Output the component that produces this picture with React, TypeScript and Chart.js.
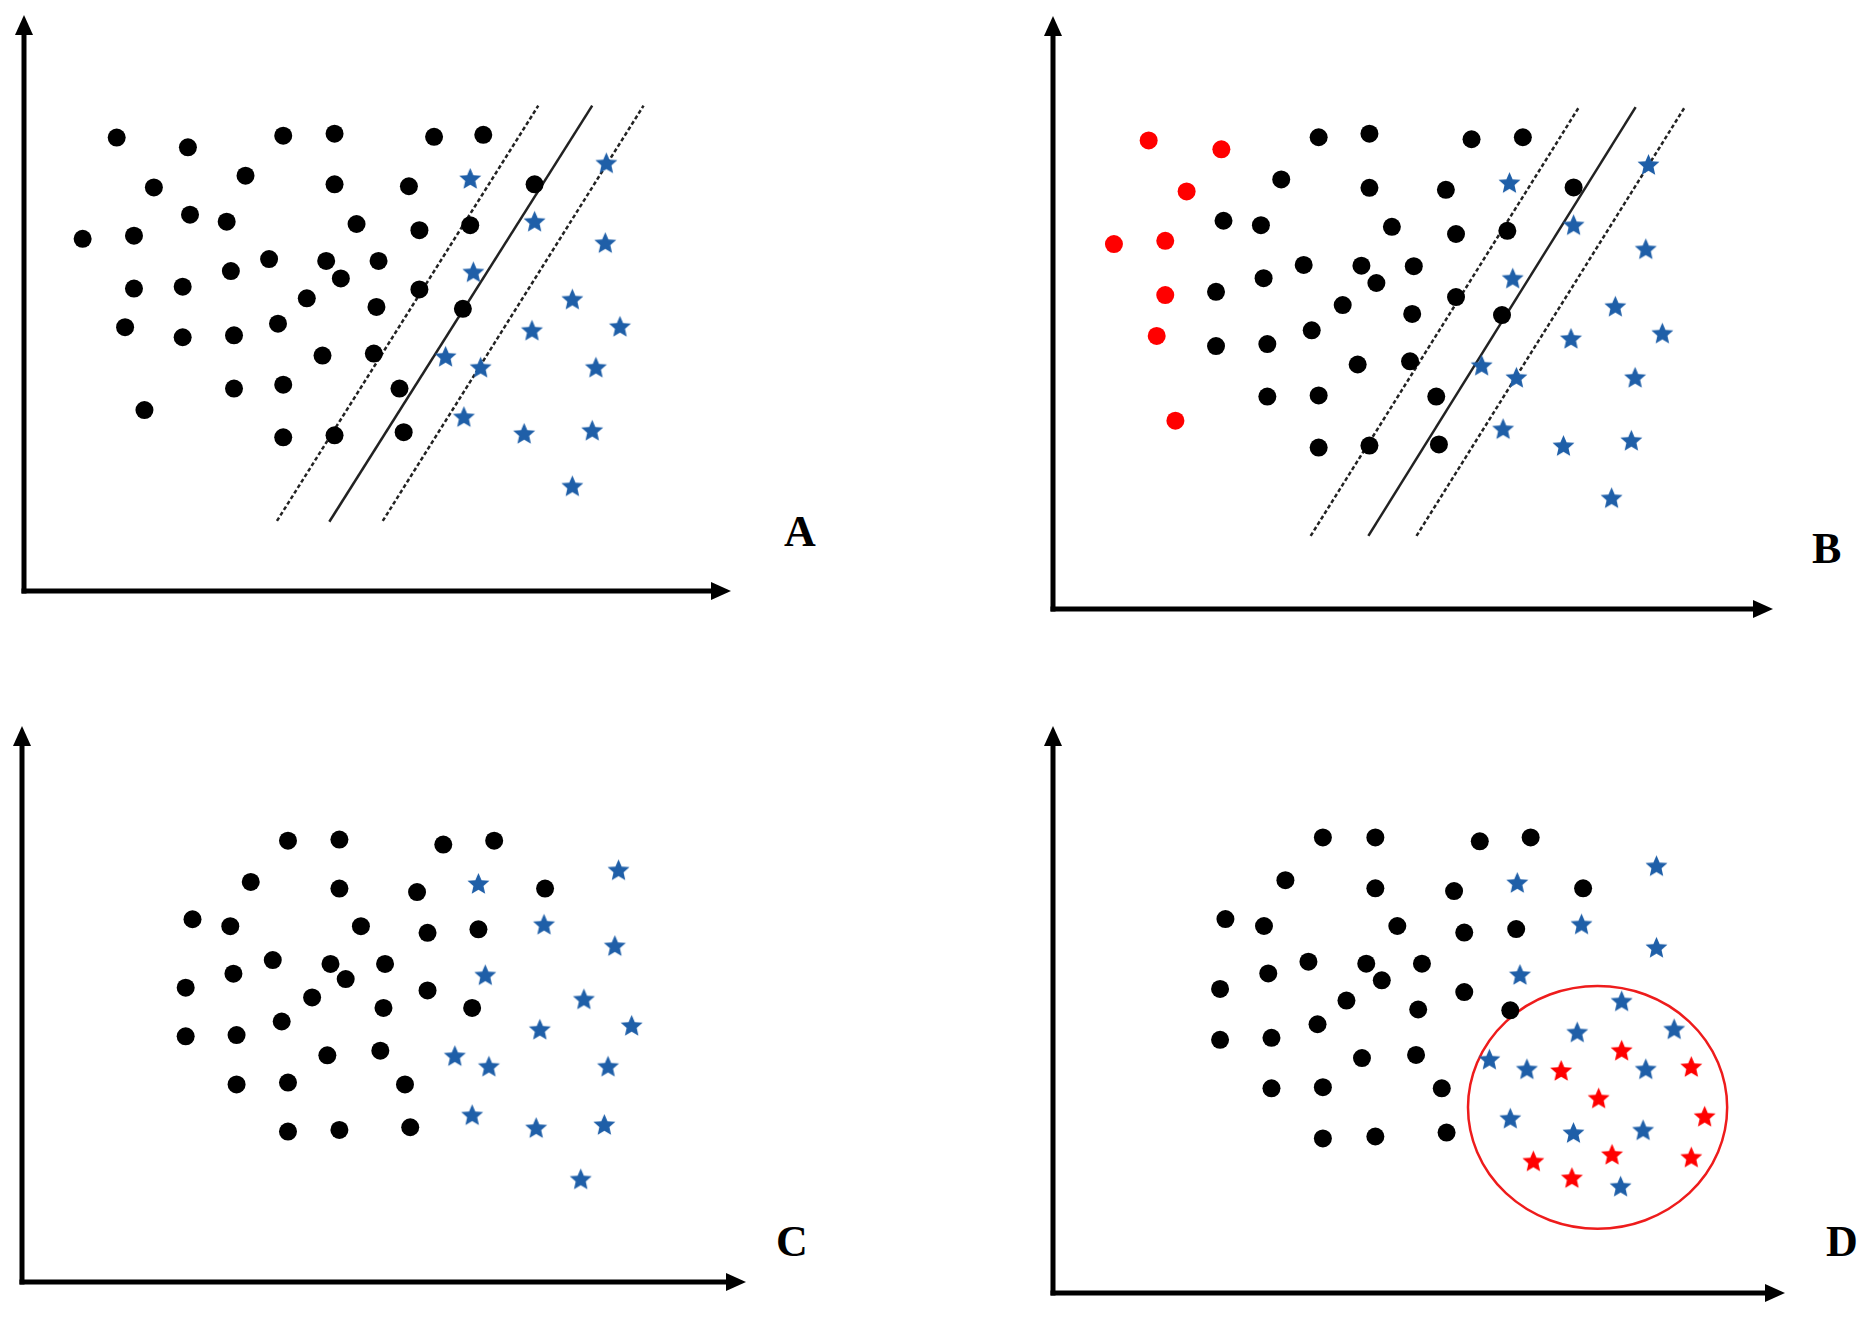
import React, { useEffect, useRef } from "react";
import { Chart, registerables } from "chart.js";

Chart.register(...registerables);

type P = [number, number];

// ---------- Panel A ----------
const A_BLACK: P[] = [
  [17.7, 116.5], [31.3, 114], [49.5, 117], [59.3, 117.5], [78.3, 116.7], [87.7, 117.2],
  [24.8, 103.7], [42.3, 106.7], [59.3, 104.5], [73.5, 104], [97.5, 104.5],
  [31.7, 96.7], [38.7, 94.9], [63.5, 94.3], [75.5, 92.7], [85.2, 94],
  [11.2, 90.5], [21, 91.3], [46.8, 85.3], [57.7, 84.8], [67.7, 84.8],
  [39.5, 82.2], [60.5, 80.3], [21, 77.7], [30.3, 78.2], [54, 75.2], [75.5, 77.5],
  [67.3, 73], [83.8, 72.5], [19.3, 67.8], [30.3, 65.2], [40.1, 65.7], [48.5, 68.7],
  [57, 60.5], [66.8, 61], [40.1, 52], [49.5, 53], [71.7, 52], [23, 46.5],
  [49.5, 39.5], [59.3, 40], [72.5, 40.8],
];
const A_BLUE: P[] = [
  [85.2, 106], [111.2, 110], [97.5, 95], [111, 89.5], [85.8, 82], [104.7, 75],
  [97, 67], [113.8, 68], [80.5, 60.3], [87.2, 57.5], [109.2, 57.5], [84, 44.8],
  [95.5, 40.5], [108.5, 41.3], [104.7, 27],
];
const A_MARGIN_LOW: P[] = [[48.3, 18], [98.2, 124.7]];
const A_HYPERPLANE: P[] = [[58.3, 17.8], [108.5, 124.7]];
const A_MARGIN_HIGH: P[] = [[68.5, 18], [118.3, 124.7]];

// ---------- Panel B ----------
const B_RED: P[] = [
  [17.9, 116.7], [31.5, 114.5], [25, 104], [11.4, 90.9], [21, 91.7], [21, 78.2],
  [19.4, 68], [22.9, 46.9],
];
const B_BLACK: P[] = [
  [49.7, 117.5], [59.2, 118.4], [78.3, 117], [87.9, 117.5],
  [42.7, 107], [59.2, 104.9], [73.5, 104.4], [97.4, 105],
  [31.9, 96.7], [38.9, 95.6], [63.4, 95.2], [75.4, 93.4], [85, 94.2],
  [46.9, 85.7], [57.7, 85.5], [67.5, 85.4], [39.4, 82.4], [60.5, 81.2],
  [30.5, 79], [54.2, 75.7], [75.4, 77.7], [67.2, 73.5], [84, 73.2],
  [48.4, 69.4], [30.5, 65.5], [40.1, 66], [57, 60.9], [66.8, 61.7],
  [40.1, 52.9], [49.7, 53.2], [71.7, 52.9], [49.7, 40.2], [59.2, 40.7], [72.2, 41],
];
const B_BLUE: P[] = [
  [85.4, 106.2], [111.4, 110.7], [97.4, 95.7], [110.9, 89.7], [86, 82.4], [105.2, 75.4],
  [96.9, 67.4], [114, 68.7], [80.2, 60.7], [86.7, 57.7], [108.9, 57.7], [84.2, 44.9],
  [95.5, 40.7], [108.2, 42], [104.5, 27.7],
];
const B_MARGIN_LOW: P[] = [[48.2, 18.2], [98.4, 125]];
const B_HYPERPLANE: P[] = [[59, 18.2], [109, 125]];
const B_MARGIN_HIGH: P[] = [[68, 18.2], [118.2, 125]];

// ---------- Panel C ----------
const C_BLACK: P[] = [
  [50.7, 113.5], [60.5, 113.8], [80.3, 112.5], [90, 113.5],
  [43.6, 102.9], [60.5, 101.2], [75.3, 100.3], [99.7, 101.2],
  [32.5, 93.3], [39.7, 91.5], [64.6, 91.5], [77.3, 89.8], [87, 90.7],
  [47.8, 82.8], [58.8, 81.8], [69.2, 81.8], [40.3, 79.3], [61.7, 77.9],
  [31.2, 75.7], [55.3, 73.2], [77.3, 75], [68.9, 70.5], [85.8, 70.5],
  [49.5, 67], [31.2, 63.2], [40.9, 63.5], [58.2, 58.3], [68.3, 59.5],
  [40.9, 50.8], [50.7, 51.3], [73, 50.8], [50.7, 38.7], [60.5, 39.1], [74, 39.8],
];
const C_BLUE: P[] = [
  [87, 102.5], [113.7, 106], [99.5, 92], [113, 86.5], [88.3, 79], [107.1, 72.8],
  [98.7, 65], [116.2, 66], [82.5, 58.2], [89, 55.5], [111.7, 55.5], [85.8, 43],
  [98, 39.7], [111, 40.5], [106.5, 26.5],
];

// ---------- Panel D ----------
const D_BLACK: P[] = [
  [50.4, 117.3], [60.2, 117.3], [79.7, 116.3], [89.2, 117.3],
  [43.4, 106.3], [60.2, 104.2], [74.9, 103.5], [99, 104.2],
  [32.2, 96.3], [39.4, 94.5], [64.3, 94.5], [76.8, 92.8], [86.5, 93.7],
  [47.7, 85.3], [58.5, 84.8], [68.9, 84.8], [40.2, 82.3], [61.4, 80.5],
  [31.2, 78.3], [54.8, 75.3], [76.8, 77.5], [68.2, 73], [85.4, 72.8],
  [49.4, 69.2], [31.2, 65.2], [40.8, 65.7], [57.7, 60.5], [67.8, 61.3],
  [40.8, 52.7], [50.4, 53], [72.6, 52.7], [50.4, 39.8], [60.2, 40.3], [73.5, 41.3],
];
const D_BLUE: P[] = [
  [86.7, 105.7], [112.7, 110], [98.7, 95], [112.7, 89], [87.2, 82],
  [106.2, 75.2], [97.9, 67.2], [116, 68], [81.5, 60.2], [88.5, 57.7], [110.7, 57.7],
  [85.4, 45], [97.2, 41.3], [110.2, 42], [106, 27.5],
];
const D_RED_STARS: P[] = [
  [106.2, 62.5], [94.9, 57.3], [119.2, 58.3], [101.9, 50.2], [121.7, 45.5],
  [104.4, 35.7], [89.7, 34], [119.2, 35], [96.9, 29.7],
];
// ellipse: centre x, centre y, radius x, radius y (data units)
const D_ELLIPSE: number[] = [101.7, 47.8, 24.2, 31.25];

const PANEL_LABELS = ["A", "B", "C", "D"];
const X_MAX = [135, 134.7, 138, 136.7];
const Y_MAX = [148, 147.7, 143, 146];

const BLUE = "#1f5fa8";
const RED = "#ff0000";
const LINE_COLOR = "#222222";

// layout (pixels) — axis corner x, top tip, axis y, right tip
const LAYOUT = [
  { ax: 24, top: 13, bottom: 591, right: 731, lx: 784, ly: 510 },
  { ax: 1053, top: 14, bottom: 609, right: 1773, lx: 1812, ly: 527 },
  { ax: 22, top: 724, bottom: 1282, right: 746, lx: 776, ly: 1220 },
  { ax: 1053, top: 724, bottom: 1293, right: 1785, lx: 1826, ly: 1220 },
];
const PAD = { left: 20, top: 10, right: 20, bottom: 20 };

function makeStar(color: string, R: number): HTMLCanvasElement {
  const size = Math.ceil(R * 2 + 2);
  const c = document.createElement("canvas");
  c.width = size;
  c.height = size;
  const ctx = c.getContext("2d")!;
  const cx = size / 2;
  const cy = size / 2 + R * 0.08;
  const r = R * 0.46;
  ctx.beginPath();
  for (let i = 0; i < 10; i++) {
    const rad = i % 2 === 0 ? R : r;
    const ang = -Math.PI / 2 + (i * Math.PI) / 5;
    const px = cx + rad * Math.cos(ang);
    const py = cy + rad * Math.sin(ang);
    if (i === 0) ctx.moveTo(px, py);
    else ctx.lineTo(px, py);
  }
  ctx.closePath();
  ctx.fillStyle = color;
  ctx.fill();
  return c;
}

const toXY = (arr: P[]) => arr.map(([x, y]) => ({ x, y }));

const axesPlugin = {
  id: "arrowAxes",
  beforeDatasetsDraw(chart: any) {
    const { ctx, chartArea } = chart;
    const { left, right, top, bottom } = chartArea;
    const lw = 5;
    const headLen = 20;
    const headHalf = 9;
    ctx.save();
    ctx.fillStyle = "#000";
    ctx.strokeStyle = "#000";
    ctx.lineWidth = lw;
    ctx.lineCap = "butt";
    // y axis
    ctx.beginPath();
    ctx.moveTo(left, bottom + lw / 2);
    ctx.lineTo(left, top + headLen - 2);
    ctx.stroke();
    ctx.beginPath();
    ctx.moveTo(left, top);
    ctx.lineTo(left - headHalf, top + headLen);
    ctx.lineTo(left + headHalf, top + headLen);
    ctx.closePath();
    ctx.fill();
    // x axis
    ctx.beginPath();
    ctx.moveTo(left - lw / 2, bottom);
    ctx.lineTo(right - headLen + 2, bottom);
    ctx.stroke();
    ctx.beginPath();
    ctx.moveTo(right, bottom);
    ctx.lineTo(right - headLen, bottom - headHalf);
    ctx.lineTo(right - headLen, bottom + headHalf);
    ctx.closePath();
    ctx.fill();

    const ell = chart.options.plugins.arrowAxes?.ellipse as number[] | null;
    if (ell) {
      const xs = chart.scales.x;
      const ys = chart.scales.y;
      const cx = xs.getPixelForValue(ell[0]);
      const cy = ys.getPixelForValue(ell[1]);
      const rx = Math.abs(xs.getPixelForValue(ell[0] + ell[2]) - cx);
      const ry = Math.abs(ys.getPixelForValue(ell[1] + ell[3]) - cy);
      ctx.beginPath();
      ctx.ellipse(cx, cy, rx, ry, 0, 0, Math.PI * 2);
      ctx.strokeStyle = "#ee1c1c";
      ctx.lineWidth = 2.5;
      ctx.stroke();
    }
    ctx.restore();
  },
};

function Panel({ idx }: { idx: number }) {
  const ref = useRef<HTMLCanvasElement | null>(null);
  const L = LAYOUT[idx];
  const width = L.right - L.ax + PAD.left + PAD.right;
  const height = L.bottom - L.top + PAD.top + PAD.bottom;

  useEffect(() => {
    if (!ref.current) return;
    const blueStar = makeStar(BLUE, 11.5);
    const redStar = makeStar(RED, 11.5);

    const dot = (data: P[], color: string) => ({
      type: "scatter",
      data: toXY(data),
      pointStyle: "circle",
      pointRadius: 9,
      pointBackgroundColor: color,
      pointBorderWidth: 0,
      showLine: false,
    });
    const star = (data: P[], img: HTMLCanvasElement) => ({
      type: "scatter",
      data: toXY(data),
      pointStyle: img,
      pointRadius: 11,
      showLine: false,
    });
    const line = (data: P[], dashed: boolean) => ({
      type: "line",
      data: toXY(data),
      showLine: true,
      borderColor: LINE_COLOR,
      borderWidth: 2.5,
      borderDash: dashed ? [4, 2.5] : [],
      pointRadius: 0,
      fill: false,
    });

    let datasets: any[] = [];
    let ellipse: number[] | null = null;
    if (idx === 0) {
      datasets = [
        dot(A_BLACK, "#000"),
        star(A_BLUE, blueStar),
        line(A_MARGIN_LOW, true),
        line(A_HYPERPLANE, false),
        line(A_MARGIN_HIGH, true),
      ];
    } else if (idx === 1) {
      datasets = [
        dot(B_BLACK, "#000"),
        dot(B_RED, RED),
        star(B_BLUE, blueStar),
        line(B_MARGIN_LOW, true),
        line(B_HYPERPLANE, false),
        line(B_MARGIN_HIGH, true),
      ];
    } else if (idx === 2) {
      datasets = [dot(C_BLACK, "#000"), star(C_BLUE, blueStar)];
    } else {
      datasets = [
        dot(D_BLACK, "#000"),
        star(D_BLUE, blueStar),
        star(D_RED_STARS, redStar),
      ];
      ellipse = D_ELLIPSE;
    }

    const chart = new Chart(ref.current, {
      type: "scatter",
      data: { datasets },
      options: {
        responsive: false,
        animation: false,
        events: [],
        layout: { padding: PAD },
        plugins: {
          legend: { display: false },
          tooltip: { enabled: false },
          arrowAxes: { ellipse },
        } as any,
        scales: {
          x: { type: "linear", min: 0, max: X_MAX[idx], display: false },
          y: { type: "linear", min: 0, max: Y_MAX[idx], display: false },
        },
      },
      plugins: [axesPlugin],
    } as any);
    return () => chart.destroy();
  }, [idx]);

  return (
    <>
      <canvas
        ref={ref}
        width={width}
        height={height}
        style={{
          position: "absolute",
          left: L.ax - PAD.left,
          top: L.top - PAD.top,
          width,
          height,
        }}
      />
      <span
        style={{
          position: "absolute",
          left: L.lx,
          top: L.ly,
          fontFamily: "'Liberation Serif', 'Times New Roman', serif",
          fontWeight: "bold",
          fontSize: 44,
          lineHeight: "44px",
          color: "#000",
        }}
      >
        {PANEL_LABELS[idx]}
      </span>
    </>
  );
}

export default function App() {
  return (
    <div
      style={{
        position: "absolute",
        left: 0,
        top: 0,
        width: 1866,
        height: 1319,
        background: "#fff",
        overflow: "hidden",
      }}
    >
      {[0, 1, 2, 3].map((i) => (
        <Panel key={i} idx={i} />
      ))}
    </div>
  );
}
